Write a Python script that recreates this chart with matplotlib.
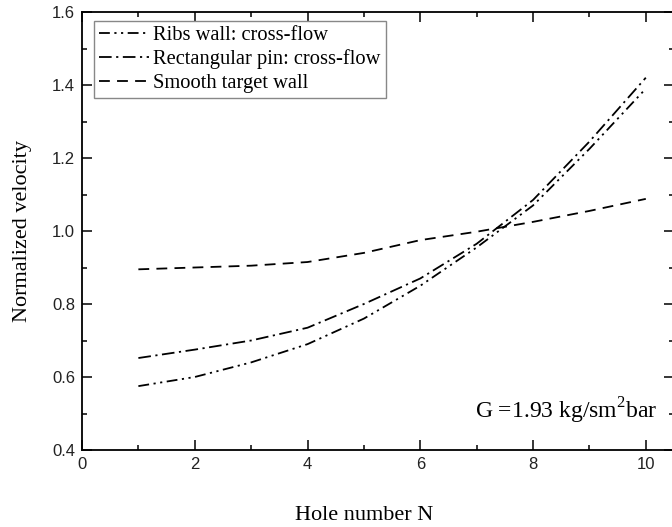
import matplotlib
matplotlib.use("Agg")
import matplotlib.pyplot as plt
from matplotlib.ticker import MultipleLocator

hole = [1, 2, 3, 4, 5, 6, 7, 8, 9, 10]
ribs = [0.575, 0.600, 0.640, 0.690, 0.760, 0.850, 0.955, 1.070, 1.225, 1.390]
rect_pin = [0.652, 0.675, 0.700, 0.735, 0.800, 0.870, 0.965, 1.085, 1.245, 1.420]
smooth = [0.895, 0.900, 0.905, 0.915, 0.940, 0.975, 0.998, 1.025, 1.055, 1.088]

serif = ["Liberation Serif", "DejaVu Serif"]
sans = ["Liberation Sans", "DejaVu Sans"]

fig = plt.figure(figsize=(6.72, 5.27), dpi=100)
ax = fig.add_axes([82 / 672, 77 / 527, 592 / 672, 438 / 527])

ax.plot(hole, ribs, color="black", lw=1.3, dashes=[6, 2.5, 1.2, 2.5, 1.2, 2.5],
        label="Ribs wall: cross-flow")
ax.plot(hole, rect_pin, color="black", lw=1.3, dashes=[7, 2.5, 1.2, 2.5],
        label="Rectangular pin: cross-flow")
ax.plot(hole, smooth, color="black", lw=1.3, dashes=[6, 4],
        label="Smooth target wall")

ax.set_xlim(0, 10.5)
ax.set_ylim(0.4, 1.6)
ax.xaxis.set_minor_locator(MultipleLocator(1))
ax.yaxis.set_major_locator(MultipleLocator(0.2))
ax.yaxis.set_minor_locator(MultipleLocator(0.1))
ax.set_xticks([0, 2, 4, 6, 8, 10])
ax.tick_params(which="both", direction="in", top=True, right=True, width=1.1)
ax.tick_params(which="major", length=7, labelsize=12, pad=5)
ax.tick_params(which="minor", length=3.5)
for lbl in ax.get_xticklabels() + ax.get_yticklabels():
    lbl.set_family(sans)
    lbl.set_color("#222222")
for sp in ax.spines.values():
    sp.set_linewidth(1.3)

ax.set_xlabel("Hole number N", family=serif, fontsize=16)
ax.set_ylabel("Normalized velocity", family=serif, fontsize=16, labelpad=14)
ax.xaxis.set_label_coords(0.476, -0.128)

ax.text(0.664, 0.09, "G =1.93 kg/sm$^{\\mathregular{2}}$bar", transform=ax.transAxes,
        family=serif, fontsize=17, va="center", ha="left")

leg = ax.legend(loc="upper left", bbox_to_anchor=(0.02, 0.98), borderaxespad=0,
                prop={"family": serif, "size": 14.8}, handlelength=2.45,
                handletextpad=0.2, labelspacing=0.2, borderpad=0.25,
                fancybox=False, edgecolor="#888888", framealpha=1)
leg.get_frame().set_linewidth(1.0)

fig.savefig("out.png", dpi=100)
